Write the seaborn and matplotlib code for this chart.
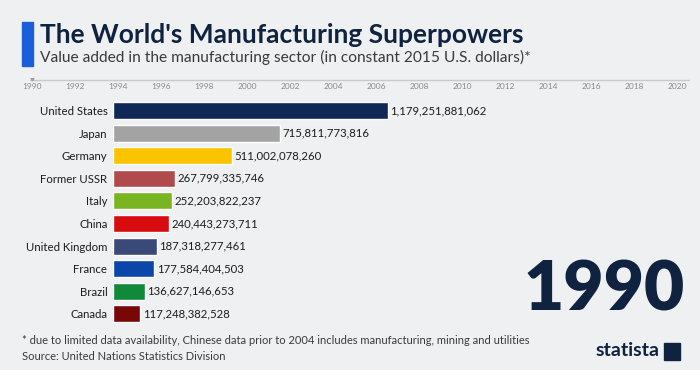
import matplotlib
matplotlib.use("Agg")
import matplotlib.pyplot as plt
import seaborn as sns
import pandas as pd

countries = ["United States", "Japan", "Germany", "Former USSR", "Italy",
             "China", "United Kingdom", "France", "Brazil", "Canada"]
values = [1179251881062, 715811773816, 511002078260, 267799335746, 252203822237,
          240443273711, 187318277461, 177584404503, 136627146653, 117248382528]
colors = ["#0f2856", "#a3a3a3", "#fcc400", "#b04a4c", "#78b520",
          "#d80b0f", "#3a4a78", "#0c46a8", "#10893a", "#780808"]
years = list(range(1990, 2021, 2))
current_year = 1990

df = pd.DataFrame({"country": countries, "value": values})

sns.set_theme(style="white")
plt.rcParams["font.family"] = ["Lato", "DejaVu Sans"]
bg = "#eff0f2"
navy = "#0f2240"

fig = plt.figure(figsize=(7, 3.7), dpi=100)
fig.patch.set_facecolor(bg)

# bar chart
ax = fig.add_axes([0.1614, 0.121, 0.824, 0.611])
ax.set_facecolor(bg)
sns.barplot(data=df, y="country", x="value", hue="country", palette=colors,
            orient="h", width=0.75, legend=False, ax=ax, saturation=1)
ax.set_xlim(0, 2.474e12)
ax.set_xlabel("")
ax.set_ylabel("")
ax.set_xticks([])
ax.tick_params(axis="y", length=0, pad=4, labelsize=8.2, labelcolor="#1c1c1c")
for s in ax.spines.values():
    s.set_visible(False)
for i, v in enumerate(values):
    ax.text(v + 0.01e12, i, f"{v:,}", va="center", ha="left", fontsize=8.2, color="#1c1c1c")

# timeline
tl = fig.add_axes([0.0429, 0.76, 0.943, 0.03])
tl.set_facecolor("none")
tl.set_xlim(1990 - 0.08, 2020.6)
tl.set_ylim(-1, 1)
tl.axhline(0.5, color="#c8c9cc", lw=1)
tl.plot([current_year], [0.9], marker="v", color="#9a9a9a", markersize=3.5)
tl.set_xticks(years)
tl.set_xticklabels([str(y) for y in years], fontsize=6, color="#8a8a8a")
tl.tick_params(axis="x", length=0, pad=-4)
tl.set_yticks([])
for s in tl.spines.values():
    s.set_visible(False)

# header
fig.patches.append(plt.Rectangle((22 / 700, 1 - 66 / 370), 11 / 700, 44 / 370,
                                 transform=fig.transFigure, color="#1a5fd9"))
fig.text(40 / 700, 1 - 35 / 370, "The World's Manufacturing Superpowers",
         fontsize=19, fontweight="bold", color=navy, va="center", ha="left")
fig.text(40 / 700, 1 - 57 / 370,
         "Value added in the manufacturing sector (in constant 2015 U.S. dollars)*",
         fontsize=11.2, color="#3a3a3a", va="center", ha="left")

# big year
fig.text(685 / 700, 1 - 291 / 370, str(current_year), fontsize=50, fontweight="heavy",
         color=navy, va="center", ha="right")

# footer
fig.text(22 / 700, 1 - 341 / 370,
         "* due to limited data availability, Chinese data prior to 2004 includes manufacturing, mining and utilities",
         fontsize=8, color="#3a3a3a", va="center", ha="left")
fig.text(22 / 700, 1 - 357 / 370, "Source: United Nations Statistics Division",
         fontsize=8, color="#3a3a3a", va="center", ha="left")
fig.text(660 / 700, 1 - 351 / 370, "statista", fontsize=14, fontweight="bold",
         color=navy, va="center", ha="right")
fig.patches.append(plt.Rectangle((664 / 700, 1 - 360 / 370), 16 / 700, 17 / 370,
                                 transform=fig.transFigure, color=navy))

fig.savefig("out.png", dpi=100, facecolor=bg)
